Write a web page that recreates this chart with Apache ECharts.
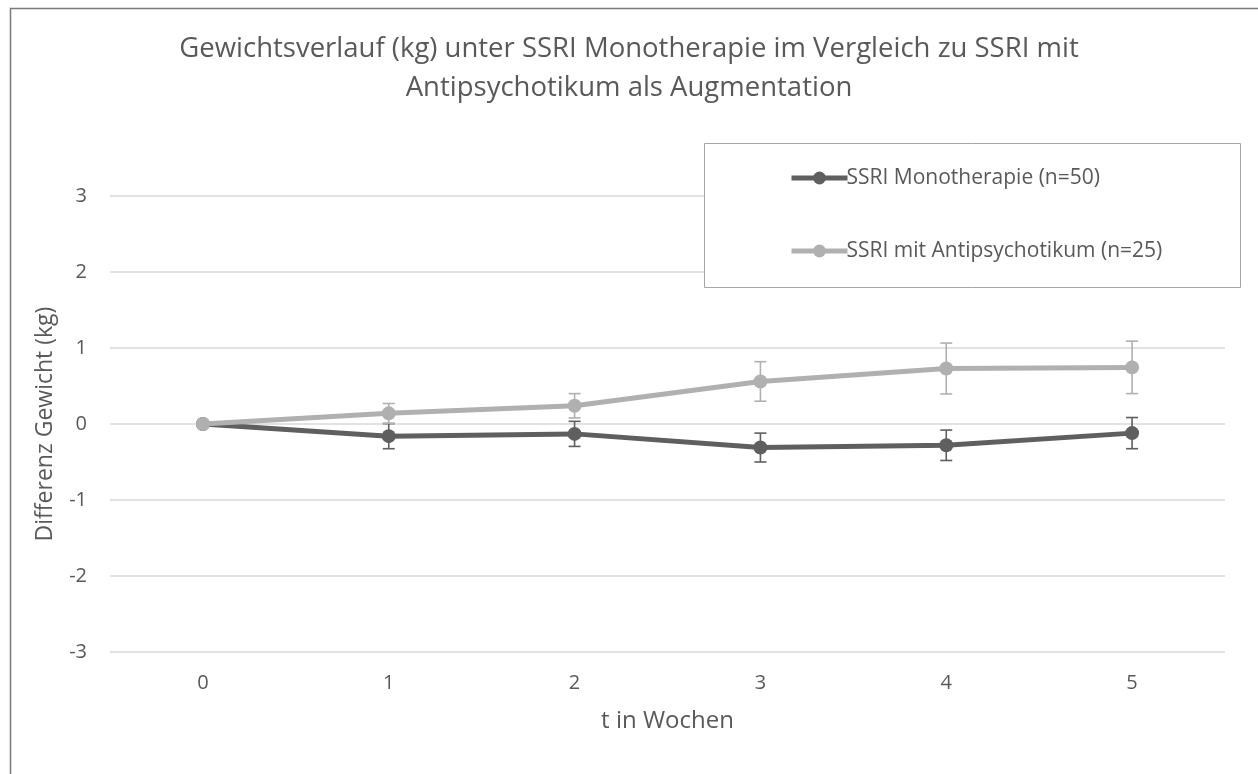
<!DOCTYPE html>
<html>
<head>
<meta charset="utf-8">
<script src="https://cdn.jsdelivr.net/npm/echarts@6/dist/echarts.min.js"></script>
<style>
    html, body { margin: 0; padding: 0; background: #fff; }
    #chart { width: 1258px; height: 774px; }
</style>
</head>
<body>
<div id="chart"></div>
<script>
    // Wochen und Mittelwerte (kg), Fehlerbalken als +/- Werte
    let weeks = ['0', '1', '2', '3', '4', '5']
    let monoMean = [0, -0.16, -0.13, -0.31, -0.28, -0.12]
    let monoErr = [0, 0.165, 0.165, 0.19, 0.2, 0.205]
    let antiMean = [0, 0.14, 0.24, 0.56, 0.73, 0.745]
    let antiErr = [0, 0.13, 0.16, 0.26, 0.335, 0.345]
    let yTicks = [-3, -2, -1, 0, 1, 2, 3]

    const font = 'Open Sans'
    const dark = '#5f5f5f'
    const light = '#b0b0b0'

    function errData(mean, err) {
        let arr = []
        mean.map((m, i) => {
            if (err[i] > 0) arr.push([i, m - err[i], m + err[i]])
        })
        return arr
    }

    function errSeries(name, mean, err, color) {
        return {
            name: name + ' err',
            type: 'custom',
            silent: true,
            z: 5,
            data: errData(mean, err),
            renderItem: (params, api) => {
                let lo = api.coord([api.value(0), api.value(1)])
                let hi = api.coord([api.value(0), api.value(2)])
                let w = 6
                let st = { stroke: color, lineWidth: 1.6 }
                return {
                    type: 'group',
                    children: [
                        { type: 'line', shape: { x1: lo[0], y1: lo[1], x2: hi[0], y2: hi[1] }, style: st },
                        { type: 'line', shape: { x1: lo[0] - w, y1: lo[1], x2: lo[0] + w, y2: lo[1] }, style: st },
                        { type: 'line', shape: { x1: hi[0] - w, y1: hi[1], x2: hi[0] + w, y2: hi[1] }, style: st }
                    ]
                }
            }
        }
    }

    let chart = echarts.init(document.getElementById('chart'))
    let option = {
        animation: false,
        textStyle: { fontFamily: font },
        title: {
            text: 'Gewichtsverlauf (kg) unter SSRI Monotherapie im Vergleich zu SSRI mit\nAntipsychotikum als Augmentation',
            left: 'center',
            top: 25,
            textStyle: { color: '#595959', fontSize: 27.5, fontWeight: 'normal', lineHeight: 39, fontFamily: font }
        },
        graphic: [
            { type: 'rect', left: 8, top: 6, shape: { width: 1260, height: 780 }, style: { fill: 'none', stroke: '#7a7a7a', lineWidth: 1.5 }, z: -1 },
            { type: 'rect', left: 704, top: 143, shape: { width: 536, height: 144 }, style: { fill: '#fff', stroke: '#a6a6a6', lineWidth: 1 }, z: 1 }
        ],
        legend: {
            orient: 'vertical',
            left: 784,
            top: 161,
            itemWidth: 56,
            itemHeight: 16,
            itemGap: 49,
            z: 10,
            lineStyle: { width: 5 },
            data: ['SSRI Monotherapie (n=50)', 'SSRI mit Antipsychotikum (n=25)'],
            textStyle: { color: '#595959', fontSize: 21, lineHeight: 24, fontFamily: font, padding: [0, 0, 0, -6] }
        },
        grid: { left: 110, right: 33, top: 196, bottom: 122 },
        xAxis: {
            type: 'category',
            data: weeks,
            boundaryGap: true,
            name: 't in Wochen',
            nameLocation: 'middle',
            nameGap: 57,
            nameTextStyle: { color: '#595959', fontSize: 24 },
            axisLine: { show: false, onZero: false },
            axisTick: { show: false },
            axisLabel: { color: '#595959', fontSize: 20, margin: 21 }
        },
        yAxis: {
            type: 'value',
            min: yTicks[0],
            max: yTicks[yTicks.length - 1],
            interval: 1,
            name: 'Differenz Gewicht (kg)',
            nameLocation: 'middle',
            nameGap: 53,
            nameTextStyle: { color: '#595959', fontSize: 23 },
            axisLine: { show: false },
            axisTick: { show: false },
            axisLabel: { color: '#595959', fontSize: 20, margin: 23 },
            splitLine: { lineStyle: { color: '#d9d9d9', width: 1.5 } }
        },
        series: [
            {
                name: 'SSRI Monotherapie (n=50)',
                type: 'line',
                data: monoMean,
                symbol: 'circle',
                symbolSize: 14,
                z: 3,
                itemStyle: { color: dark },
                lineStyle: { color: dark, width: 5 }
            },
            {
                name: 'SSRI mit Antipsychotikum (n=25)',
                type: 'line',
                data: antiMean,
                symbol: 'circle',
                symbolSize: 14,
                z: 4,
                itemStyle: { color: light },
                lineStyle: { color: light, width: 5 }
            },
            errSeries('mono', monoMean, monoErr, dark),
            errSeries('anti', antiMean, antiErr, light)
        ]
    }
    chart.setOption(option)
</script>
</body>
</html>
